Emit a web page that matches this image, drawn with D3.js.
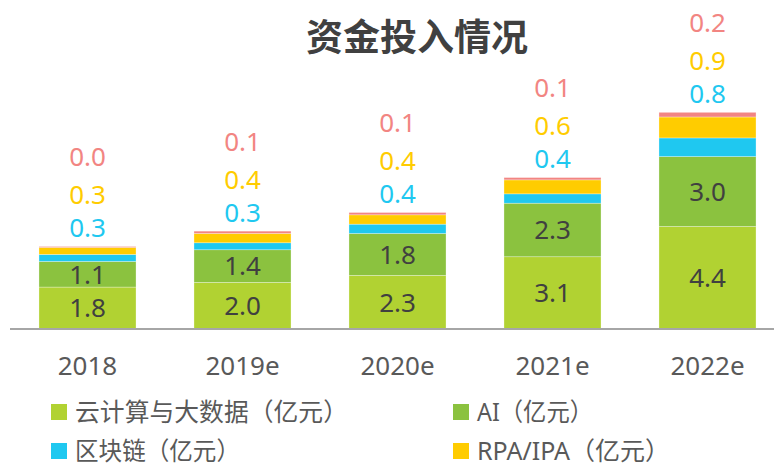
<!DOCTYPE html>
<html>
<head>
<meta charset="utf-8">
<script src="https://cdn.jsdelivr.net/npm/d3@7"></script>
<style>
  body { margin: 0; background: #fff; }
  svg { display: block; font-family: "Noto Sans", "Noto Sans CJK SC", sans-serif; }
</style>
</head>
<body>
<svg id="chart" width="774" height="467"></svg>
<script>
// data
const years = ["2018", "2019e", "2020e", "2021e", "2022e"];
const cloud = [1.8, 2.0, 2.3, 3.1, 4.4];
const ai = [1.1, 1.4, 1.8, 2.3, 3.0];
const blockchain = [0.3, 0.3, 0.4, 0.4, 0.8];
const rpa = [0.3, 0.4, 0.4, 0.6, 0.9];
const other = [0.04, 0.1, 0.1, 0.1, 0.2];

const seriesNames = ["云计算与大数据（亿元）", "AI（亿元）", "区块链（亿元）", "RPA/IPA（亿元）", "其他（亿元）"];
const seriesValues = [cloud, ai, blockchain, rpa, other];
const colors = ["#B1D232", "#8BC23F", "#1FC8F0", "#FFCC00", "#F28582"];

const svg = d3.select("#chart");

const rows = years.map((yr, i) => {
    const r = { year: yr };
    seriesNames.forEach((s, k) => r[s] = seriesValues[k][i]);
    return r;
});
const stacked = d3.stack().keys(seriesNames)(rows);

const x = d3.scaleBand()
    .domain(years)
    .range([10, 785])
    .paddingInner(0.374)
    .paddingOuter(0.187);

const y = d3.scaleLinear()
    .domain([0, 10])
    .range([329, 96]);

// title
svg.append("text")
    .attr("x", 417)
    .attr("y", 51)
    .attr("text-anchor", "middle")
    .attr("fill", "#404040")
    .style("font-family", "'Noto Sans CJK SC', sans-serif")
    .style("font-weight", "bold")
    .style("font-size", "37px")
    .text("资金投入情况");

// bars
const layers = svg.append("g").selectAll("g")
    .data(stacked)
    .join("g")
    .attr("fill", (d, i) => colors[i]);

layers.selectAll("rect")
    .data(d => d)
    .join("rect")
    .attr("x", d => x(d.data.year))
    .attr("width", x.bandwidth())
    .attr("y", d => y(d[1]))
    .attr("height", d => y(d[0]) - y(d[1]))
    .attr("stroke", "#ffffff")
    .attr("stroke-opacity", 0.5)
    .attr("stroke-width", 0.6);

// axis line
const xAxis = svg.append("g")
    .attr("transform", `translate(0,${y(0)})`)
    .call(d3.axisBottom(x).tickSize(0).tickPadding(28));
xAxis.select(".domain")
    .attr("d", "M10,0H774")
    .attr("stroke", "#A6A6A6")
    .attr("stroke-width", 2);
xAxis.selectAll("text")
    .attr("fill", "#595959")
    .style("font-family", "'Noto Sans', sans-serif")
    .style("font-size", "26px");

const fmt = d3.format(".1f");

// labels inside the two big segments
[0, 1].forEach(k => {
    svg.append("g").selectAll("text")
        .data(stacked[k])
        .join("text")
        .attr("x", d => x(d.data.year) + x.bandwidth() / 2)
        .attr("y", d => (y(d[0]) + y(d[1])) / 2)
        .attr("dy", "0.36em")
        .attr("text-anchor", "middle")
        .attr("fill", "#404040")
        .style("font-size", "26px")
        .text((d, i) => fmt(seriesValues[k][i]));
});

// labels for the small segments, stacked above the bar
const topOffsets = [19, 52, 90];
[2, 3, 4].forEach((k, j) => {
    svg.append("g").selectAll("text")
        .data(years)
        .join("text")
        .attr("x", d => x(d) + x.bandwidth() / 2)
        .attr("y", (d, i) => y(stacked[4][i][1]) - topOffsets[j])
        .attr("dy", "0.36em")
        .attr("text-anchor", "middle")
        .attr("fill", colors[k])
        .style("font-size", "26px")
        .text((d, i) => fmt(seriesValues[k][i]));
});

// legend (only four entries fit)
const legendPos = [[51, 412], [453, 412], [51, 451], [453, 451]];
const legendWidths = [273, 116, 165, 193];
const legend = svg.append("g").selectAll("g")
    .data(seriesNames.slice(0, 4))
    .join("g")
    .attr("transform", (d, i) => `translate(${legendPos[i][0]},${legendPos[i][1]})`);

legend.append("rect")
    .attr("y", -8)
    .attr("width", 16)
    .attr("height", 16)
    .attr("fill", (d, i) => colors[i]);

legend.append("text")
    .attr("x", 24)
    .attr("dy", "0.36em")
    .attr("fill", "#595959")
    .attr("textLength", (d, i) => legendWidths[i])
    .attr("lengthAdjust", "spacingAndGlyphs")
    .style("font-family", "'Noto Sans', 'Noto Sans CJK SC', sans-serif")
    .style("font-size", "25px")
    .text(d => d);
</script>
</body>
</html>
